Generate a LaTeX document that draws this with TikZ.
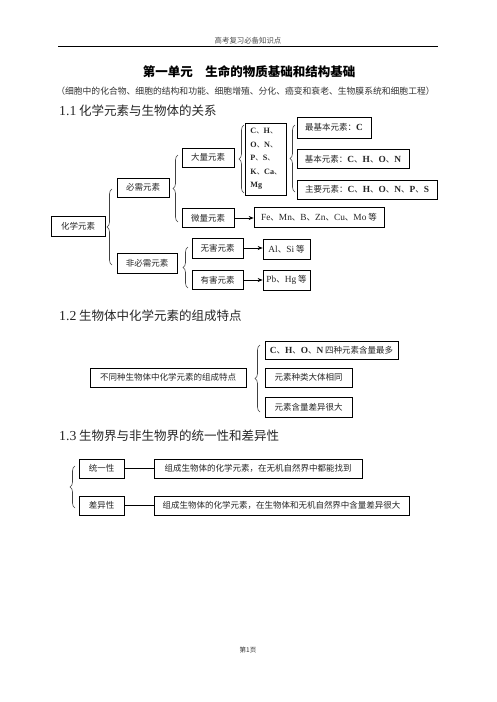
\documentclass[tikz,border=0pt]{standalone}
\usepackage{fontspec}
\usetikzlibrary{arrows.meta,decorations.pathreplacing}
\newfontfamily\cjk{Noto Sans CJK SC}
\newfontfamily\lat{Liberation Serif}[Scale=1.1]
\newcommand\eb[1]{{\lat\bfseries #1}}
\newcommand\er[1]{{\lat #1}}
\tikzset{
  box/.style={draw, line width=0.7pt, inner sep=0pt, minimum height=19pt,
    font=\cjk\fontsize{8.5}{10}\selectfont, text=black!85},
  brc/.style={decorate, decoration={brace, amplitude=5pt}, line width=0.6pt, draw=black!75},
  arr/.style={-{Stealth[length=5pt,width=4pt]}, line width=0.7pt},
  lnk/.style={line width=0.7pt},
  head/.style={anchor=west, inner sep=0pt, font=\cjk\fontsize{12.5}{14}\selectfont, text=black!85}
}
\begin{document}
\begin{tikzpicture}[x=1pt,y=-1pt]
\fill[white] (0,0) rectangle (496,702);
\useasboundingbox (0,0) rectangle (496,702);
% header
\node[font=\cjk\fontsize{7.4}{9}\selectfont, text=black!70] (hdr) at (248,41) {高考复习必备知识点};
\coordinate (rl) at (58,46); \coordinate (rr) at (438,46);
\draw[line width=0.8pt] (rl) -- (rr);
\node[font=\cjk\bfseries\fontsize{12.5}{14}\selectfont] (ttl) at (249,72) {第一单元　生命的物质基础和结构基础};
\node[font=\cjk\fontsize{8.8}{10}\selectfont, text=black!80] (sub) at (245.5,91) {（细胞中的化合物、细胞的结构和功能、细胞增殖、分化、癌变和衰老、生物膜系统和细胞工程）};
% 1.1
\node[head] (s1) at (59,111) {\er{1.1} 化学元素与生物体的关系};
\node[box, minimum width=54pt, minimum height=20pt] (hx) at (78,226) {化学元素};
\node[box, minimum width=52pt] (bx) at (143,187.5) {必需元素};
\node[box, minimum width=60pt, minimum height=20pt] (fbx) at (147,263) {非必需元素};
\node[box, minimum width=52pt] (dl) at (208,157.5) {大量元素};
\node[box, minimum width=52pt] (wl) at (208,218) {微量元素};
\node[box, minimum width=51pt, minimum height=20pt] (wh) at (217.5,248) {无害元素};
\node[box, minimum width=51pt] (yh) at (217.5,280) {有害元素};
\node[box, minimum width=38pt, minimum height=72pt, align=left, inner xsep=5pt,
  font=\cjk\fontsize{7.4}{13.5}\selectfont] (ch) at (266,159)
  {\eb{C}、\eb{H}、\\\eb{O}、\eb{N}、\\\eb{P}、\eb{S}、\\\eb{K}、\eb{Ca}、\\\eb{Mg}};
\node[box, minimum width=74pt, minimum height=21pt] (zj) at (334,127.5) {最基本元素：\eb{C}};
\node[box, minimum width=112pt] (jb) at (353,159) {基本元素：\eb{C}、\eb{H}、\eb{O}、\eb{N}};
\node[box, minimum width=140pt] (zy) at (367,189.5) {主要元素：\eb{C}、\eb{H}、\eb{O}、\eb{N}、\eb{P}、\eb{S}};
\node[box, minimum width=130pt, minimum height=20pt] (fe) at (319,217.5) {\er{Fe}、\er{Mn}、\er{B}、\er{Zn}、\er{Cu}、\er{Mo} 等};
\node[box, minimum width=47pt, minimum height=20pt] (al) at (286.5,249) {\er{Al}、\er{Si} 等};
\node[box, minimum width=47pt, minimum height=20pt] (pb) at (286.5,280) {\er{Pb}、\er{Hg} 等};
\draw[arr] (wl.east) -- (wl.east -| fe.west);
\draw[arr] (wh.east) -- (wh.east -| al.west);
\draw[arr] (yh.east) -- (yh.east -| pb.west);
% braces 1.1
\coordinate (b1a) at (112,265); \coordinate (b1b) at (112,189);
\draw[brc] (b1a) -- (b1b);
\coordinate (b2a) at (178,222); \coordinate (b2b) at (178,155);
\draw[brc] (b2a) -- (b2b);
\coordinate (b3a) at (188,288); \coordinate (b3b) at (188,247);
\draw[brc] (b3a) -- (b3b);
\coordinate (b4a) at (244,193); \coordinate (b4b) at (244,125);
\draw[brc] (b4a) -- (b4b);
\coordinate (b5a) at (295,192); \coordinate (b5b) at (295,125);
\draw[brc] (b5a) -- (b5b);
% 1.2
\node[head] (s2) at (59,316) {\er{1.2} 生物体中化学元素的组成特点};
\node[box, minimum width=156pt] (bt) at (168,377.5) {不同种生物体中化学元素的组成特点};
\node[box, minimum width=133pt, minimum height=18pt] (t1) at (331.5,350) {\eb{C}、\eb{H}、\eb{O}、\eb{N} 四种元素含量最多};
\node[box, minimum width=87pt] (t2) at (308.5,377.5) {元素种类大体相同};
\node[box, minimum width=87pt, minimum height=20pt] (t3) at (308.5,407) {元素含量差异很大};
\coordinate (b6a) at (260,412); \coordinate (b6b) at (260,345);
\draw[brc] (b6a) -- (b6b);
% 1.3
\node[head] (s3) at (59,436) {\er{1.3} 生物界与非生物界的统一性和差异性};
\node[box, minimum width=45pt] (ty) at (101.5,468.5) {统一性};
\node[box, minimum width=45pt] (cy) at (101.5,505.5) {差异性};
\node[box, minimum width=208pt] (l1) at (258,468.5) {组成生物体的化学元素，在无机自然界中都能找到};
\node[box, minimum width=255pt] (l2) at (281.5,505.5) {组成生物体的化学元素，在生物体和无机自然界中含量差异很大};
\draw[lnk] (ty) -- (l1);
\draw[lnk] (cy) -- (l2);
\coordinate (b7a) at (75,508); \coordinate (b7b) at (75,466);
\draw[brc] (b7a) -- (b7b);
% footer
\node[font=\cjk\fontsize{6.5}{8}\selectfont, text=black!80] (ft) at (248,650) {第1页};
\end{tikzpicture}
\end{document}
